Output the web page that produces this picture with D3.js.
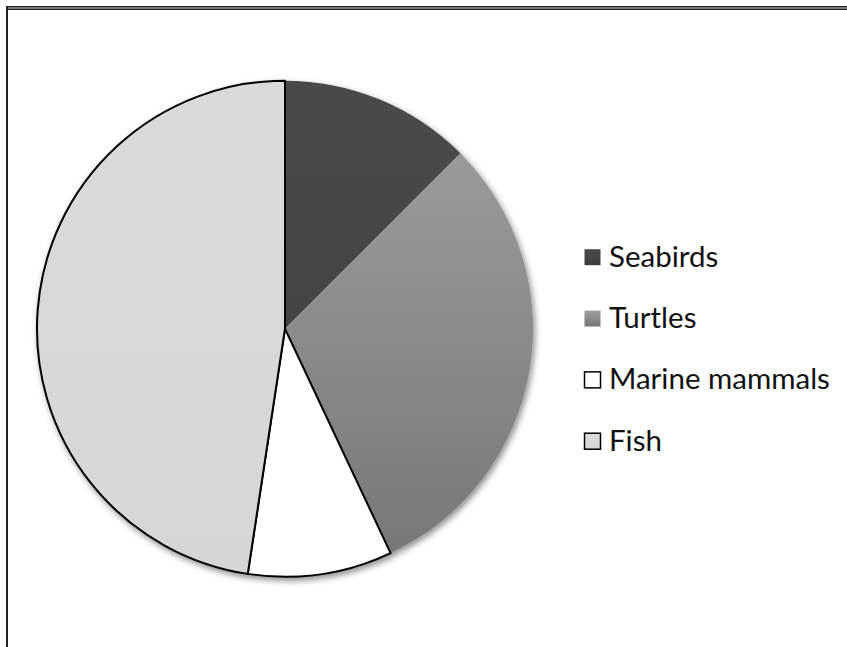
<!DOCTYPE html>
<html>
<head>
<meta charset="utf-8">
<style>
    body { margin: 0; background: #fff; }
    svg { display: block; }
    .legend-text {
        font-family: Lato, 'Open Sans', sans-serif;
        font-size: 29.5px;
        fill: #111;
    }
</style>
</head>
<body>
<svg width="847" height="647"></svg>
<script src="https://cdnjs.cloudflare.com/ajax/libs/d3/7.8.5/d3.min.js"></script>
<script>
    // slice data, clockwise from 12 o'clock
    let categories = ["Seabirds", "Turtles", "Marine mammals", "Fish"];
    let values = [12.5, 30.5, 9.4, 47.6];
    let topColors = ["#4a4a4a", "#a0a0a0", "#ffffff", "#dadada"];
    let bottomColors = ["#3c3c3c", "#767676", "#ffffff", "#d6d6d6"];
    let outlined = [false, false, true, true];

    let svg = d3.select("svg");
    let cx = 285, cy = 328.7, r = 248;

    let defs = svg.append("defs");

    // soft drop shadow under the pie
    let shadow = defs.append("filter")
        .attr("id", "shadow")
        .attr("x", "-10%").attr("y", "-10%")
        .attr("width", "125%").attr("height", "125%");
    shadow.append("feDropShadow")
        .attr("dx", 2).attr("dy", 3)
        .attr("stdDeviation", 3)
        .attr("flood-color", "#000")
        .attr("flood-opacity", 0.45);

    // vertical gradients for slices (group coords) and legend boxes
    categories.forEach((c, i) => {
        let g = defs.append("linearGradient")
            .attr("id", "grad" + i)
            .attr("gradientUnits", "userSpaceOnUse")
            .attr("x1", 0).attr("y1", -r)
            .attr("x2", 0).attr("y2", r);
        g.append("stop").attr("offset", "0%").attr("stop-color", topColors[i]);
        g.append("stop").attr("offset", "100%").attr("stop-color", bottomColors[i]);

        let lg = defs.append("linearGradient")
            .attr("id", "leg" + i)
            .attr("x1", 0).attr("y1", 0).attr("x2", 0).attr("y2", 1);
        lg.append("stop").attr("offset", "0%").attr("stop-color", topColors[i]);
        lg.append("stop").attr("offset", "100%").attr("stop-color", bottomColors[i]);
    });

    // frame
    svg.append("rect")
        .attr("x", 6).attr("y", 6)
        .attr("width", 860).attr("height", 4)
        .attr("fill", "#7a7a7a");
    svg.append("line")
        .attr("x1", 6).attr("x2", 847)
        .attr("y1", 6.5).attr("y2", 6.5)
        .attr("stroke", "#222").attr("stroke-width", 1);
    svg.append("line")
        .attr("x1", 6).attr("x2", 847)
        .attr("y1", 9.5).attr("y2", 9.5)
        .attr("stroke", "#222").attr("stroke-width", 1);
    svg.append("line")
        .attr("x1", 7).attr("x2", 7)
        .attr("y1", 6).attr("y2", 647)
        .attr("stroke", "#222").attr("stroke-width", 2);

    let pie = d3.pie().sort(null).value(d => d);
    let arc = d3.arc().innerRadius(0).outerRadius(r);
    let arcs = pie(values);

    let pieG = svg.append("g")
        .attr("transform", `translate(${cx},${cy})`)
        .attr("filter", "url(#shadow)");

    // unoutlined slices first, outlined ones on top
    let order = [0, 1, 2, 3].sort((a, b) => outlined[a] - outlined[b]);
    pieG.selectAll("path")
        .data(order)
        .join("path")
        .attr("d", i => arc(arcs[i]))
        .attr("fill", i => `url(#grad${i})`)
        .attr("stroke", i => outlined[i] ? "#000" : "none")
        .attr("stroke-width", 2)
        .attr("stroke-linejoin", "round");

    // legend
    let y = d3.scalePoint()
        .domain(categories)
        .range([266.7, 450.7]);

    let rows = svg.append("g")
        .selectAll("g")
        .data(categories)
        .join("g")
        .attr("transform", d => `translate(0,${y(d)})`);

    rows.append("rect")
        .attr("x", 584.5)
        .attr("y", -17.5)
        .attr("width", 16)
        .attr("height", 16)
        .attr("fill", (d, i) => `url(#leg${i})`)
        .attr("stroke", (d, i) => outlined[i] ? "#000" : "none")
        .attr("stroke-width", 1.5);

    rows.append("text")
        .attr("class", "legend-text")
        .attr("x", 609)
        .attr("y", 0)
        .text(d => d);
</script>
</body>
</html>
